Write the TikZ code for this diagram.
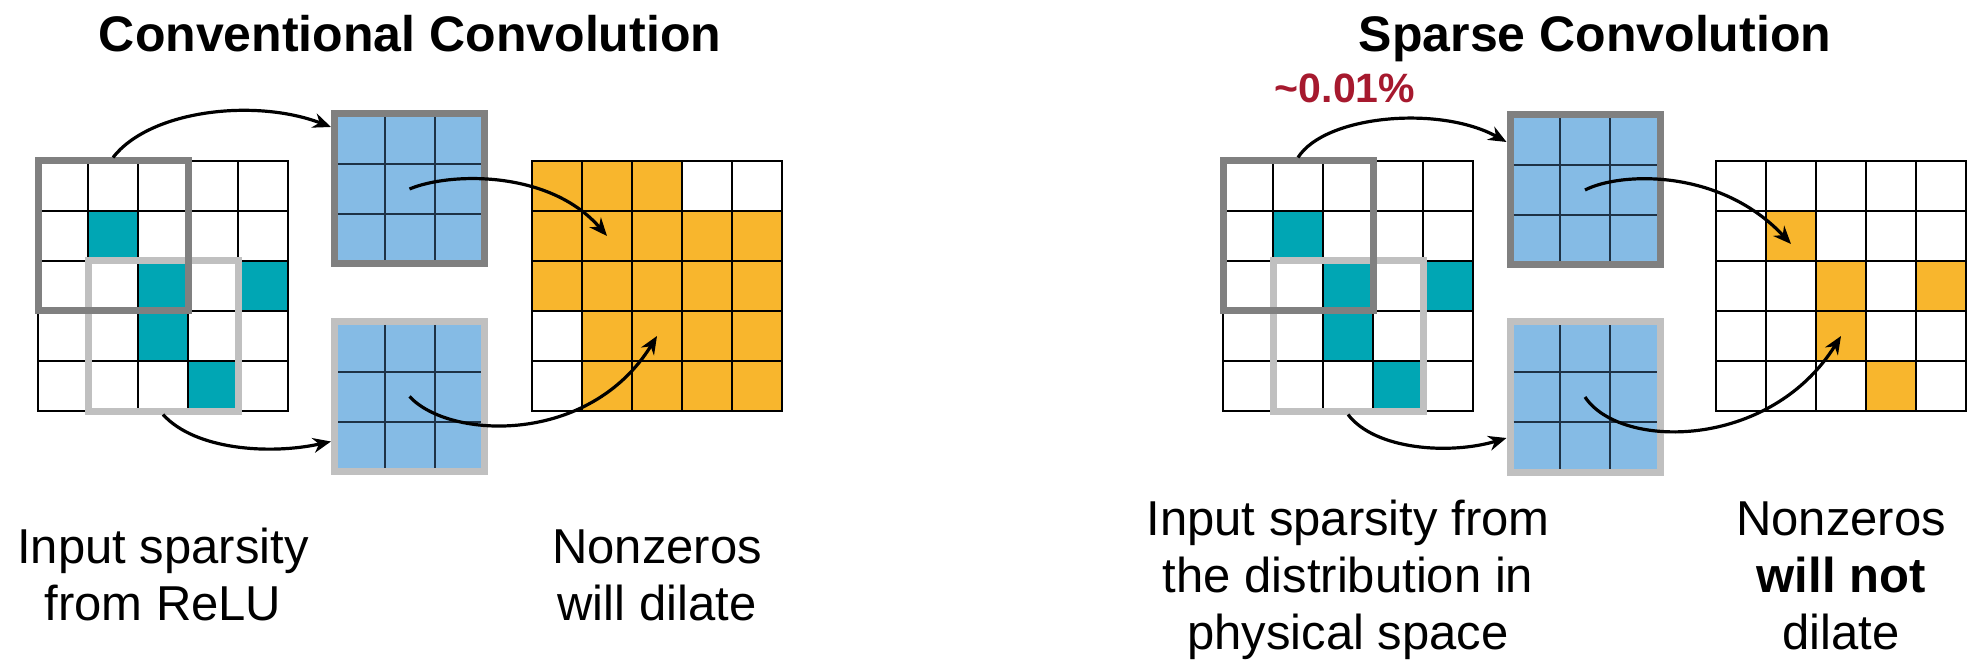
\documentclass[tikz,border=0pt]{standalone}
\usepackage{fontspec}
\setmainfont{Liberation Sans}
\usetikzlibrary{arrows.meta}
\definecolor{kernblue}{RGB}{133,187,229}
\definecolor{kernline}{RGB}{30,50,70}
\definecolor{nzteal}{RGB}{0,166,180}
\definecolor{outorange}{RGB}{248,182,45}
\definecolor{windark}{RGB}{128,128,128}
\definecolor{winlight}{RGB}{192,192,192}
\definecolor{pctred}{RGB}{166,25,46}

\begin{document}
\begin{tikzpicture}[x=1pt,y=-1pt,
  cell/.style={draw=black, line width=1.5pt, minimum size=50pt, inner sep=0pt, outer sep=0pt, fill=white},
  kern/.style={draw=#1, line width=7pt, fill=kernblue, minimum size=150pt, inner sep=0pt},
  kline/.style={draw=kernline, line width=2pt},
  win/.style={draw=#1, line width=7pt},
  flow/.style={line width=3.2pt, -{Stealth[length=18pt,width=15pt]}},
  title/.style={font=\fontsize{50}{60}\selectfont\bfseries, anchor=base},
  pct/.style={font=\fontsize{41}{48}\selectfont\bfseries, text=pctred, anchor=base},
  lbl/.style={font=\fontsize{49}{57}\selectfont, align=center, anchor=base}
]
\useasboundingbox (0,0) rectangle (1968,660);

% titles
\node[title] (ttl-l) at (410,52) {Conventional Convolution};
\node[title] (ttl-r) at (1595,52) {Sparse Convolution};
\node[pct] (pct) at (1345,103) {\textasciitilde 0.01\%};

% input grids
\foreach \r in {0,...,4}
  \foreach \c in {0,...,4} {
    \node[cell] (li-\r\c) at (63+50*\c,186+50*\r) {};
    \node[cell] (ri-\r\c) at (1248+50*\c,186+50*\r) {};
  }
\foreach \r/\c in {1/1,2/2,2/4,3/2,4/3} {
  \node[cell,fill=nzteal] at (li-\r\c) {};
  \node[cell,fill=nzteal] at (ri-\r\c) {};
}

% output grids
\foreach \r in {0,...,4}
  \foreach \c in {0,...,4} {
    \node[cell,fill=outorange] (lo-\r\c) at (557+50*\c,186+50*\r) {};
    \node[cell] (ro-\r\c) at (1741+50*\c,186+50*\r) {};
  }
\foreach \r/\c in {0/3,0/4,3/0,4/0}
  \node[cell] at (lo-\r\c) {};
\foreach \r/\c in {1/1,2/2,2/4,3/2,4/3}
  \node[cell,fill=outorange] at (ro-\r\c) {};

% sliding windows
\draw[win=winlight] (li-21.north west) rectangle (li-43.south east);
\draw[win=windark] (li-00.north west) rectangle (li-22.south east);
\draw[win=winlight] (ri-21.north west) rectangle (ri-43.south east);
\draw[win=windark] (ri-00.north west) rectangle (ri-22.south east);

% kernels
\node[kern=windark] (lk1) at (409.5,189) {};
\node[kern=winlight] (lk2) at (409.5,396.5) {};
\node[kern=windark] (rk1) at (1585,190) {};
\node[kern=winlight] (rk2) at (1585,397) {};
\foreach \k in {lk1,lk2,rk1,rk2} {
  \draw[kline] ([xshift=-25pt,yshift=71.5pt]\k.center) -- ([xshift=-25pt,yshift=-71.5pt]\k.center);
  \draw[kline] ([xshift=25pt,yshift=71.5pt]\k.center) -- ([xshift=25pt,yshift=-71.5pt]\k.center);
  \draw[kline] ([xshift=-71.5pt,yshift=25pt]\k.center) -- ([xshift=71.5pt,yshift=25pt]\k.center);
  \draw[kline] ([xshift=-71.5pt,yshift=-25pt]\k.center) -- ([xshift=71.5pt,yshift=-25pt]\k.center);
}

% arrows, conventional
\draw[flow] ([yshift=3.5pt]li-01.north) .. controls (150,110) and (255,98) .. ([yshift=62pt]lk1.west);
\draw[flow] ([yshift=-3.5pt]li-42.south) .. controls (195,450) and (270,455) .. ([yshift=-45pt]lk2.west);
\draw[flow] (lk1.center) .. controls (450,172) and (550,170) .. (lo-11.center);
\draw[flow] (lk2.center) .. controls (450,440) and (590,445) .. (lo-32.center);

% arrows, sparse
\draw[flow] ([yshift=3.5pt]ri-01.north) .. controls (1325,115) and (1440,105) .. ([yshift=48pt]rk1.west);
\draw[flow] ([yshift=-3.5pt]ri-42.south) .. controls (1375,450) and (1450,455) .. ([yshift=-41pt]rk2.west);
\draw[flow] (rk1.center) .. controls (1620,172) and (1720,168) .. ([yshift=-8pt]ro-11.center);
\draw[flow] (rk2.center) .. controls (1620,450) and (1770,450) .. (ro-32.center);

% captions
\node[lbl] (cap-in-l) at (163,620) {Input sparsity\\from ReLU};
\node[lbl] (cap-nz-l) at (657,620) {Nonzeros\\will dilate};
\node[lbl] (cap-in-r) at (1348,649) {Input sparsity from\\the distribution in\\physical space};
\node[lbl] (cap-nz-r) at (1841,649) {Nonzeros\\\textbf{will not}\\dilate};
\end{tikzpicture}
\end{document}
